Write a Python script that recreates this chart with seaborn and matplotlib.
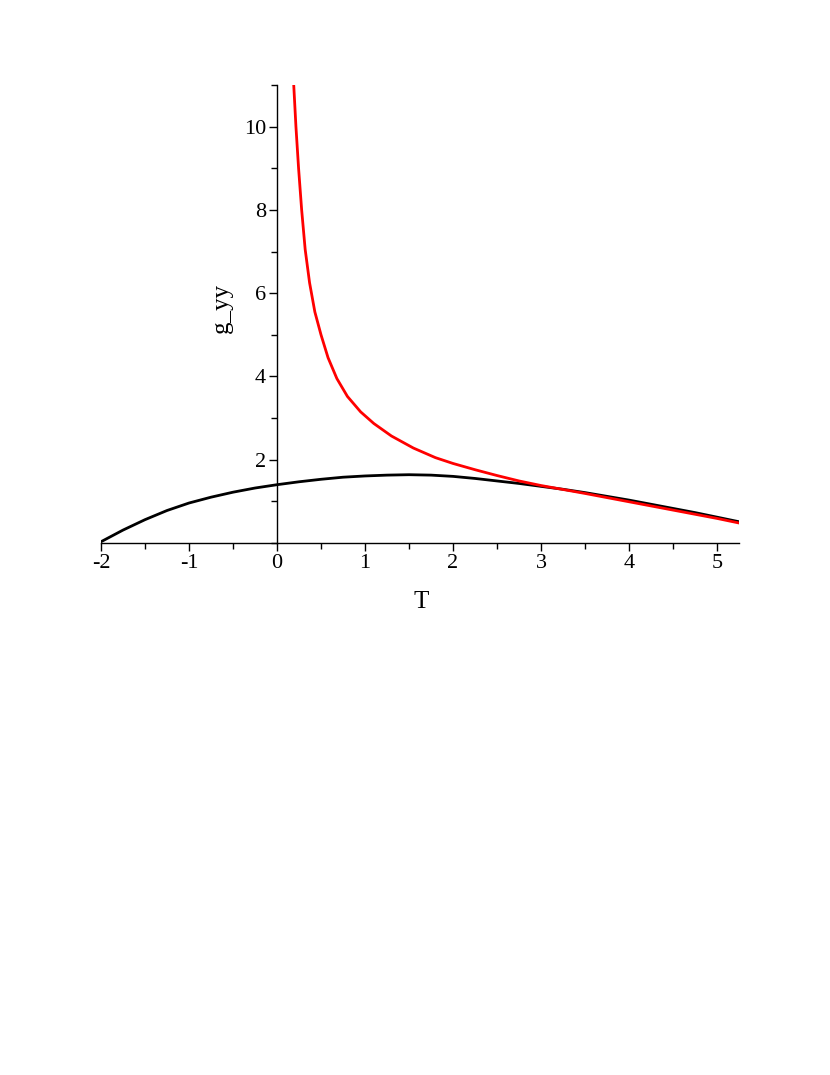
import pandas as pd
import seaborn as sns
import matplotlib.pyplot as plt
from matplotlib.ticker import MultipleLocator

# values
red_T = [0.19, 0.215, 0.245, 0.28, 0.32, 0.37, 0.43, 0.50, 0.58, 0.68, 0.80, 0.95,
         1.1, 1.3, 1.55, 1.8, 2.0, 2.25, 2.5, 2.75, 3.0, 3.5, 4.0, 4.5, 5.0, 5.25]
red_g = [11.0, 10.0, 9.0, 8.0, 7.05, 6.25, 5.55, 5.0, 4.45, 3.95, 3.52, 3.15,
         2.87, 2.57, 2.28, 2.05, 1.91, 1.76, 1.62, 1.49, 1.38, 1.19, 0.99, 0.79, 0.59, 0.48]

black_T = [-2.0, -1.75, -1.5, -1.25, -1.0, -0.75, -0.5, -0.25, 0.0, 0.25, 0.5, 0.75,
           1.0, 1.25, 1.5, 1.75, 2.0, 2.25, 2.5, 2.75, 3.0, 3.25, 3.5, 3.75,
           4.0, 4.25, 4.5, 4.75, 5.0, 5.25]
black_g = [0.03, 0.31, 0.56, 0.78, 0.96, 1.10, 1.22, 1.32, 1.40, 1.47, 1.53, 1.58,
           1.61, 1.63, 1.64, 1.63, 1.60, 1.55, 1.49, 1.43, 1.36, 1.29, 1.21, 1.12,
           1.03, 0.93, 0.83, 0.73, 0.62, 0.51]

x_ticks = [-2, -1, 0, 1, 2, 3, 4, 5]
y_ticks = [2, 4, 6, 8, 10]


def main():
    sns.set_style("white")
    plt.rcParams["font.family"] = ["Liberation Serif", "DejaVu Serif"]
    plt.rcParams["text.color"] = "black"
    plt.rcParams["axes.labelcolor"] = "black"
    plt.rcParams["xtick.color"] = "black"
    plt.rcParams["ytick.color"] = "black"
    plt.rcParams["axes.unicode_minus"] = False

    df_red = pd.DataFrame({"T": red_T, "g_yy": red_g})
    df_black = pd.DataFrame({"T": black_T, "g_yy": black_g})

    fig = plt.figure(figsize=(8.3, 10.75), dpi=100)
    ax = fig.add_axes([0.1217, 0.4949, 0.7687, 0.426])

    sns.lineplot(data=df_black, x="T", y="g_yy", color="black", linewidth=2.0,
                 sort=False, ax=ax)
    sns.lineplot(data=df_red, x="T", y="g_yy", color="#ff0000", linewidth=2.0,
                 sort=False, ax=ax)

    ax.set_xlim(-2, 5.25)
    ax.set_ylim(0, 11)

    # axes cross at the origin, like the Maple plot
    ax.spines["left"].set_position(("data", 0))
    ax.spines["bottom"].set_position(("data", 0))
    ax.spines["right"].set_visible(False)
    ax.spines["top"].set_visible(False)
    for s in ("left", "bottom"):
        ax.spines[s].set_color("black")
        ax.spines[s].set_linewidth(1.0)

    ax.set_xticks(x_ticks)
    ax.set_yticks(y_ticks)
    ax.xaxis.set_minor_locator(MultipleLocator(0.5))
    ax.yaxis.set_minor_locator(MultipleLocator(1))
    ax.tick_params(which="both", direction="out", color="black", width=1.0,
                   labelsize=16, labelcolor="black", bottom=True, left=True)
    ax.tick_params(which="major", length=6)
    ax.tick_params(which="minor", length=4)
    ax.tick_params(axis="x", pad=2)
    ax.tick_params(axis="y", pad=2)

    ax.set_xlabel("T", fontsize=18, color="black")
    ax.set_ylabel("g_yy", fontsize=18, color="black")
    ax.xaxis.set_label_coords(0.502, -0.105)
    ax.yaxis.set_label_coords(0.207, 0.513)

    ax.grid(False)
    plt.savefig("out.png", dpi=100)
    plt.close()


if __name__ == "__main__":
    main()
